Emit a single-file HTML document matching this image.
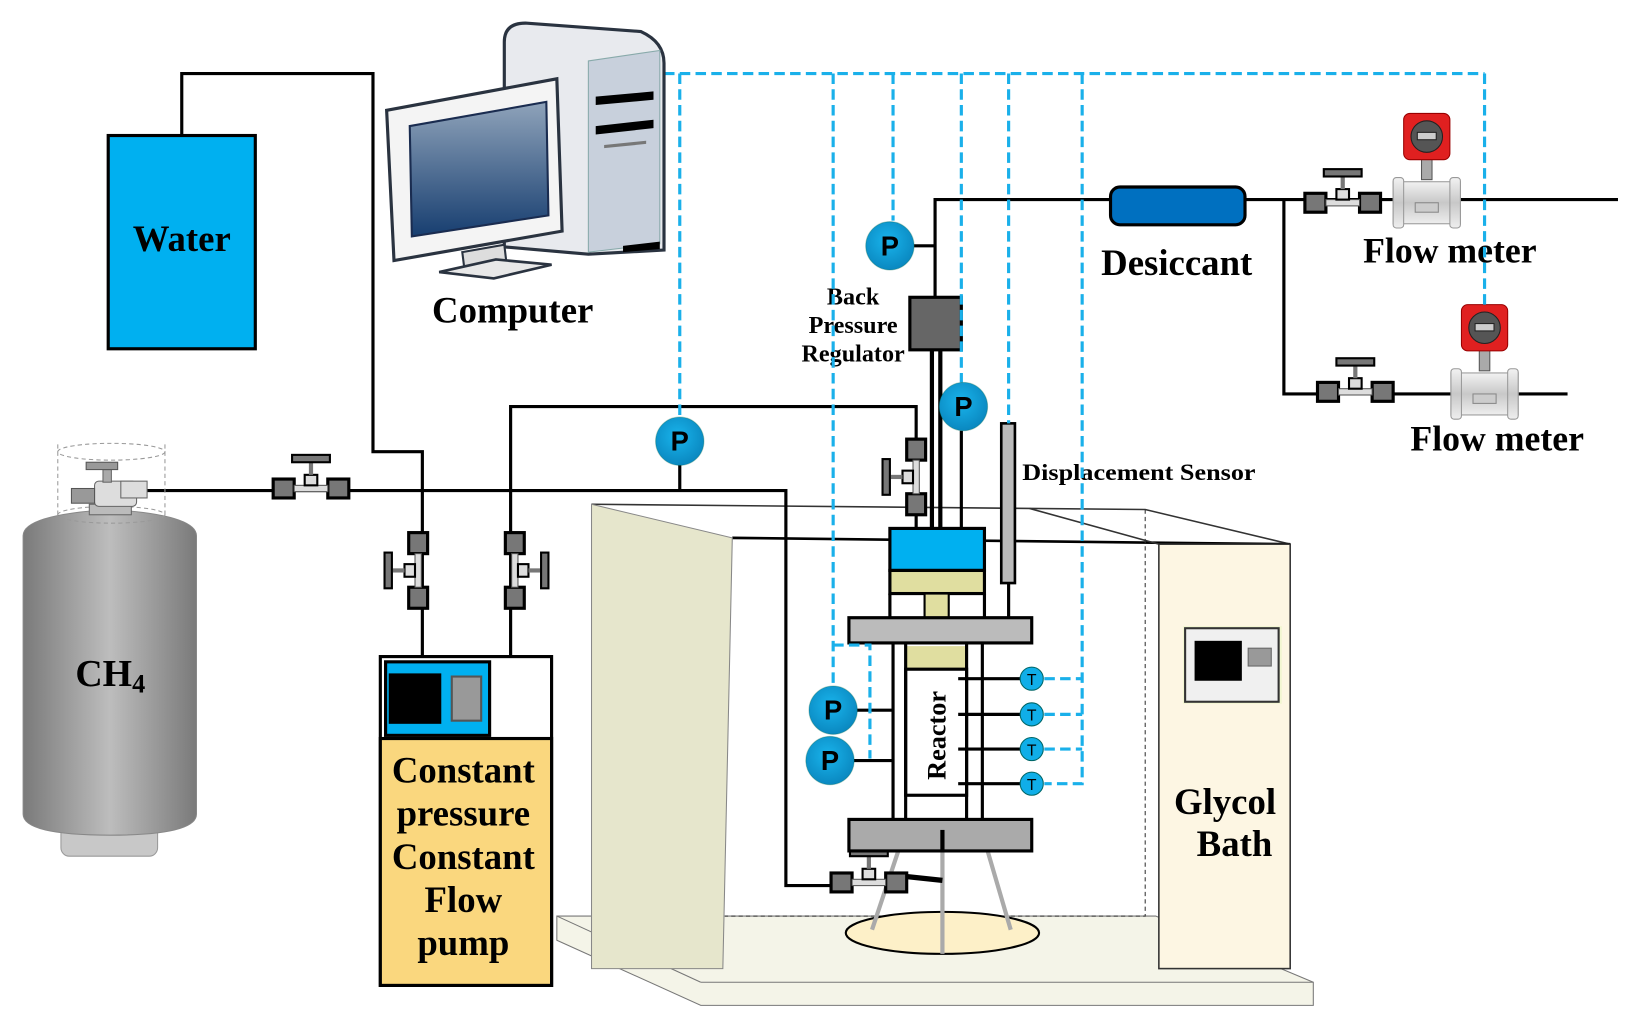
<!DOCTYPE html>
<html><head><meta charset="utf-8"><style>
html,body{margin:0;padding:0;background:#fff;width:1639px;height:1029px;overflow:hidden}
svg{display:block}
text{font-family:"Liberation Serif",serif;font-weight:bold;fill:#000}
</style></head><body>
<svg width="1639" height="1029" viewBox="0 0 1560 979.5" preserveAspectRatio="none" xmlns="http://www.w3.org/2000/svg">
<defs>
<linearGradient id="cyl" x1="0" x2="1"><stop offset="0" stop-color="#7a7a7a"/><stop offset="0.5" stop-color="#bdbdbd"/><stop offset="1" stop-color="#7a7a7a"/></linearGradient>
<linearGradient id="scr" x1="0" y1="0" x2="0" y2="1"><stop offset="0" stop-color="#8fa3ba"/><stop offset="1" stop-color="#173e70"/></linearGradient>
<linearGradient id="fm" x1="0" y1="0" x2="0" y2="1"><stop offset="0" stop-color="#f2f2f2"/><stop offset="0.5" stop-color="#c8c8c8"/><stop offset="1" stop-color="#eee"/></linearGradient>
<radialGradient id="pc" cx="0.45" cy="0.4" r="0.6"><stop offset="0" stop-color="#19b4ec"/><stop offset="1" stop-color="#0a88c0"/></radialGradient>
<g id="hv"><rect x="-36" y="-9" width="20" height="18" fill="#777" stroke="#000" stroke-width="3"/><rect x="16" y="-9" width="20" height="18" fill="#777" stroke="#000" stroke-width="3"/><rect x="-16" y="-3" width="32" height="6" fill="#ddd" stroke="#555"/><rect x="-6" y="-13" width="12" height="10" fill="#ddd" stroke="#000" stroke-width="2"/><line x1="0" y1="-13" x2="0" y2="-26" stroke="#777" stroke-width="4"/><rect x="-18" y="-32" width="36" height="7" fill="#777" stroke="#000" stroke-width="2"/></g>
<g id="vv"><rect x="-9" y="-36" width="18" height="20" fill="#777" stroke="#000" stroke-width="3"/><rect x="-9" y="16" width="18" height="20" fill="#777" stroke="#000" stroke-width="3"/><rect x="-3" y="-16" width="6" height="32" fill="#ddd" stroke="#555"/><rect x="-13" y="-6" width="10" height="12" fill="#ddd" stroke="#000" stroke-width="2"/><line x1="-13" y1="0" x2="-24" y2="0" stroke="#777" stroke-width="4"/><rect x="-32" y="-17" width="7" height="34" fill="#777" stroke="#000" stroke-width="2"/></g>
<g id="flow"><rect x="-32" y="-20" width="64" height="40" fill="url(#fm)" stroke="#999"/><rect x="-32" y="-24" width="10" height="48" rx="3" fill="url(#fm)" stroke="#999"/><rect x="22" y="-24" width="10" height="48" rx="3" fill="url(#fm)" stroke="#999"/><rect x="-11" y="0" width="22" height="9" fill="#ccc" stroke="#888"/><rect x="-5" y="-44" width="10" height="22" fill="#aaa" stroke="#555"/><rect x="-22" y="-85" width="44" height="44" rx="6" fill="#e02020" stroke="#900"/><circle cx="0" cy="-63" r="15" fill="#555" stroke="#222"/><rect x="-9" y="-67" width="18" height="7" fill="#ccc" stroke="#222"/></g>
<g id="P"><circle r="23" fill="url(#pc)" stroke="#064" stroke-opacity="0.3"/><text x="0" y="9" text-anchor="middle" style="font-family:'Liberation Sans',sans-serif;font-size:26px;font-weight:bold">P</text></g>
<g id="T"><circle r="11" fill="#10aee8" stroke="#066" stroke-width="1"/><text x="0" y="6" text-anchor="middle" style="font-family:'Liberation Sans',sans-serif;font-size:15px;font-weight:normal">T</text></g>
</defs>

<!-- bath frame -->
<polygon points="530,872 1100,872 1250,935 1250,957 667,957 530,895" fill="#f4f4e8" stroke="#777"/>
<line x1="667" y1="935" x2="1250" y2="935" stroke="#777"/><line x1="530" y1="872" x2="667" y2="935" stroke="#777"/>
<polyline points="563,480 1090,485 1228,518" fill="none" stroke="#333" stroke-width="1.5"/>
<line x1="697" y1="512" x2="1228" y2="518" stroke="#000" stroke-width="2.5"/>
<line x1="980" y1="484" x2="1103" y2="518" stroke="#333" stroke-width="1.5"/>
<polyline points="1090,485 1090,872 690,872" fill="none" stroke="#333" stroke-dasharray="4,3"/>
<polygon points="563,480 697,512 688,922 563,922" fill="#e6e6cc" stroke="#888"/>
<rect x="1103" y="518" width="125" height="404" fill="#fdf6e3" stroke="#333" stroke-width="1.5"/>
<rect x="1126" y="596" width="94" height="74" fill="#e8f8c0" opacity="0.5"/>
<rect x="1128" y="598" width="89" height="70" fill="#f0f0f0" stroke="#333" stroke-width="2"/>
<rect x="1137" y="610" width="45" height="38" fill="#000"/><rect x="1188" y="617" width="22" height="17" fill="#999" stroke="#666"/>
<text x="1166" y="775" text-anchor="middle" font-size="35">Glycol</text>
<text x="1175" y="815" text-anchor="middle" font-size="35">Bath</text>

<!-- ellipse and legs -->
<ellipse cx="897" cy="888" rx="92" ry="20" fill="#fdf0c8" stroke="#000" stroke-width="2"/>
<g stroke="#aaa" stroke-width="4"><line x1="855" y1="810" x2="830" y2="885"/><line x1="940" y1="810" x2="962" y2="885"/><line x1="897" y1="810" x2="897" y2="908"/></g>

<!-- water -->
<rect x="103" y="129" width="140" height="203" fill="#00b0f0" stroke="#000" stroke-width="3"/>
<text x="173" y="239" text-anchor="middle" font-size="35">Water</text>

<!-- black pipes -->
<g fill="none" stroke="#000" stroke-width="3">
<polyline points="173,129 173,70 355,70 355,430 402,430 402,625"/>
<polyline points="140,467 748,467 748,843 805,843"/>
<polyline points="486,625 486,387 872,387 872,503"/>
<line x1="647" y1="440" x2="647" y2="467"/>
<polyline points="870,234 890,234"/>
<polyline points="890,283 890,190 1057,190"/>
<line x1="1185" y1="190" x2="1540" y2="190"/>
<polyline points="1222,190 1222,375 1492,375"/>
<line x1="887" y1="333" x2="887" y2="503" stroke-width="4"/><line x1="895" y1="333" x2="895" y2="503" stroke-width="4"/>
<line x1="915" y1="410" x2="915" y2="503"/>
<line x1="960" y1="555" x2="960" y2="588"/>
<line x1="850" y1="833" x2="897" y2="838" stroke-width="5"/>
</g>

<!-- valves -->
<use href="#hv" x="296" y="465"/>
<use href="#vv" x="398" y="543"/>
<g transform="translate(490,543) scale(-1,1)"><use href="#vv"/></g>
<use href="#vv" x="872" y="454"/>
<use href="#hv" x="1278" y="193"/>
<use href="#hv" x="1290" y="373"/>
<use href="#hv" x="827" y="840"/>

<!-- flow meters -->
<use href="#flow" x="1358" y="193"/>
<use href="#flow" x="1413" y="375"/>
<text x="1380" y="250" text-anchor="middle" font-size="34">Flow meter</text>
<text x="1425" y="429" text-anchor="middle" font-size="34">Flow meter</text>

<!-- desiccant -->
<rect x="1057" y="178" width="128" height="36" rx="9" fill="#0070c0" stroke="#000" stroke-width="3"/>
<text x="1120" y="262" text-anchor="middle" font-size="35">Desiccant</text>

<!-- BPR -->
<rect x="866" y="283" width="49" height="50" fill="#666" stroke="#000" stroke-width="3"/>
<text x="812" y="290" text-anchor="middle" font-size="23">Back</text>
<text x="812" y="317" text-anchor="middle" font-size="23">Pressure</text>
<text x="812" y="344" text-anchor="middle" font-size="23">Regulator</text>

<!-- displacement sensor -->
<rect x="953" y="403" width="13" height="152" fill="#bbb" stroke="#000" stroke-width="2.5"/>
<text x="973" y="457" font-size="22" textLength="222" lengthAdjust="spacingAndGlyphs">Displacement  Sensor</text>

<!-- reactor -->
<rect x="847" y="503" width="90" height="40" fill="#00b0f0" stroke="#000" stroke-width="3"/>
<rect x="847" y="543" width="90" height="22" fill="#e0dea0" stroke="#000" stroke-width="3"/>
<line x1="847" y1="565" x2="847" y2="588" stroke="#000" stroke-width="3"/><line x1="937" y1="565" x2="937" y2="588" stroke="#000" stroke-width="3"/>
<rect x="880" y="565" width="23" height="23" fill="#e0dea0" stroke="#000" stroke-width="2"/>
<rect x="808" y="588" width="174" height="24" fill="#bbb" stroke="#000" stroke-width="3"/>
<rect x="862" y="615" width="58" height="22" fill="#e0dea0"/>
<rect x="862" y="637" width="58" height="120" fill="#fff" stroke="#000" stroke-width="3"/>
<g stroke="#000" stroke-width="3"><line x1="850" y1="612" x2="850" y2="780"/><line x1="862" y1="612" x2="862" y2="780"/><line x1="920" y1="612" x2="920" y2="780"/><line x1="935" y1="612" x2="935" y2="780"/>
<line x1="912" y1="646" x2="972" y2="646"/><line x1="912" y1="680" x2="972" y2="680"/><line x1="912" y1="713" x2="972" y2="713"/><line x1="912" y1="746" x2="972" y2="746"/>
<line x1="815" y1="676" x2="850" y2="676"/><line x1="812" y1="724" x2="850" y2="724"/></g>
<text transform="translate(900,700) rotate(-90)" text-anchor="middle" font-size="25">Reactor</text>
<rect x="808" y="780" width="174" height="30" fill="#aaa" stroke="#000" stroke-width="3"/>
<line x1="897" y1="790" x2="897" y2="810" stroke="#000" stroke-width="4"/>
<use href="#T" x="982" y="646"/><use href="#T" x="982" y="680"/><use href="#T" x="982" y="713"/><use href="#T" x="982" y="746"/>

<!-- dashed signal lines -->
<g fill="none" stroke="#1ab0ea" stroke-width="3" stroke-dasharray="10,5">
<line x1="632" y1="70" x2="1413" y2="70"/>
<line x1="647" y1="70" x2="647" y2="397"/>
<line x1="793" y1="70" x2="793" y2="652"/>
<line x1="850" y1="70" x2="850" y2="210"/>
<line x1="915" y1="70" x2="915" y2="364"/>
<line x1="960" y1="70" x2="960" y2="403"/>
<polyline points="1030,70 1030,746 994,746"/>
<line x1="994" y1="646" x2="1030" y2="646"/><line x1="994" y1="680" x2="1030" y2="680"/><line x1="994" y1="713" x2="1030" y2="713"/>
<line x1="1413" y1="70" x2="1413" y2="290"/>
<polyline points="793,614 828,614 828,722"/>
</g>

<!-- P gauges -->
<use href="#P" x="647" y="420"/>
<use href="#P" x="847" y="234"/>
<use href="#P" x="917" y="387"/>
<use href="#P" x="793" y="676"/>
<use href="#P" x="790" y="724"/>

<!-- pump -->
<rect x="362" y="625" width="163" height="313" fill="#fff" stroke="#000" stroke-width="3"/>
<rect x="362" y="703" width="163" height="235" fill="#fad77e" stroke="#000" stroke-width="3"/>
<rect x="367" y="630" width="99" height="70" fill="#00b0f0" stroke="#000" stroke-width="3"/>
<rect x="370" y="641" width="50" height="48" fill="#000"/>
<rect x="430" y="644" width="28" height="42" fill="#999" stroke="#555" stroke-width="2"/>
<g font-size="35" text-anchor="middle"><text x="441" y="745">Constant</text><text x="441" y="786">pressure</text><text x="441" y="827">Constant</text><text x="441" y="868">Flow</text><text x="441" y="909">pump</text></g>

<!-- CH4 -->
<rect x="58" y="770" width="92" height="45" rx="8" fill="#c8c8c8" stroke="#999"/>
<path d="M22,510 Q22,490 105,485 Q187,490 187,510 L187,775 Q187,795 105,795 Q22,795 22,775 Z" fill="url(#cyl)" stroke="#888"/>
<path d="M55,423 L55,490 M157,423 L157,490" stroke="#999" stroke-dasharray="4,3"/>
<ellipse cx="106" cy="430" rx="51" ry="8" fill="none" stroke="#999" stroke-dasharray="4,3"/>
<ellipse cx="106" cy="490" rx="51" ry="8" fill="none" stroke="#999" stroke-dasharray="4,3"/>
<rect x="85" y="480" width="40" height="10" fill="#bbb" stroke="#666"/>
<rect x="90" y="458" width="40" height="24" rx="4" fill="#ddd" stroke="#666"/>
<rect x="68" y="465" width="22" height="14" fill="#999" stroke="#555"/>
<rect x="115" y="458" width="25" height="16" fill="#ddd" stroke="#666"/>
<rect x="98" y="447" width="8" height="12" fill="#aaa" stroke="#666"/>
<rect x="82" y="440" width="30" height="7" fill="#999" stroke="#555"/>
<text x="105" y="653" text-anchor="middle" font-size="36">CH<tspan font-size="25" dy="6">4</tspan></text>

<!-- computer -->
<path d="M480,40 Q480,22 500,22 L610,30 Q632,40 632,60 L632,238 L560,242 L480,235 Z" fill="#e8eaee" stroke="#2a3340" stroke-width="3"/>
<path d="M560,58 L628,48 L628,232 L560,240 Z" fill="#c8d0dc" stroke="#8aa"/>
<polygon points="567,92 622,87 622,95 567,100" fill="#000"/>
<polygon points="567,120 622,114 622,122 567,128" fill="#000"/>
<polygon points="575,138 615,134 615,137 575,141" fill="#777"/>
<polygon points="593,234 628,230 628,237 593,240" fill="#000"/>
<polygon points="368,105 530,75 535,220 375,248" fill="#f4f4f4" stroke="#2a3340" stroke-width="3"/>
<polygon points="390,120 520,97 522,205 392,225" fill="url(#scr)" stroke="#1a2c50" stroke-width="2"/>
<polygon points="440,240 480,233 482,250 442,256" fill="#ddd" stroke="#2a3340" stroke-width="2"/>
<polygon points="418,259 472,247 525,252 470,265" fill="#e8e8e8" stroke="#2a3340" stroke-width="2.5"/>
<text x="488" y="307" text-anchor="middle" font-size="35">Computer</text>
</svg>
</body></html>
